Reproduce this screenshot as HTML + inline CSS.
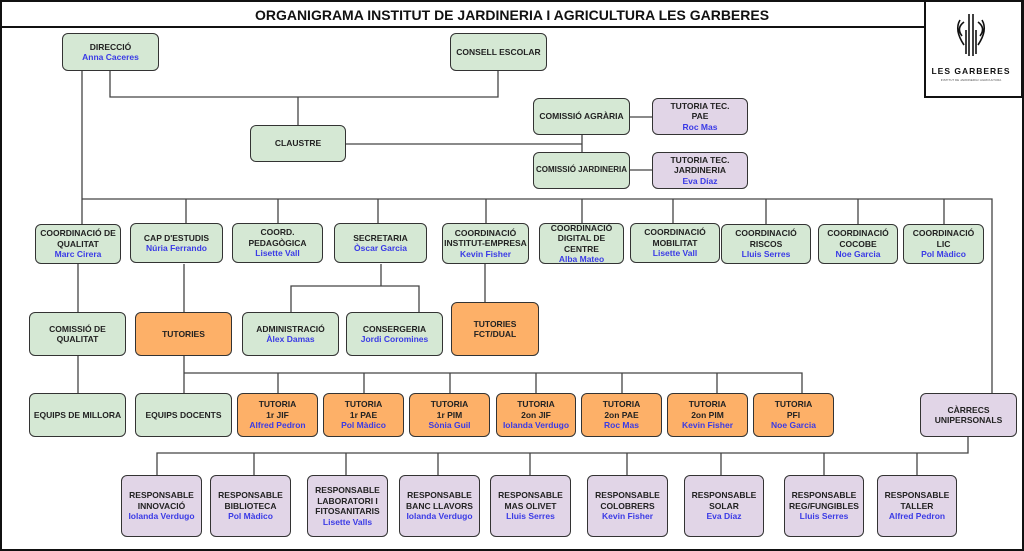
<!DOCTYPE html>
<html><head><meta charset="utf-8"><style>
body{margin:0;width:1024px;height:551px;background:#fff;position:relative;overflow:hidden;font-family:"Liberation Sans",Arial,sans-serif}
.b{position:absolute;box-sizing:border-box;border:1.5px solid #333;border-radius:6px;display:flex;flex-direction:column;justify-content:center;align-items:center;text-align:center;font-weight:bold;font-size:8.5px;line-height:10.5px;color:#222}
.g{background:#d5e8d4}.o{background:#fdb068}.p{background:#e1d5e7}
.b span{color:#3a3ae6}
svg{position:absolute;left:0;top:0}
</style></head><body>
<svg width="1024" height="551">
<rect x="1" y="1" width="1022" height="549" fill="none" stroke="#111" stroke-width="2"/>
<line x1="1" y1="27" x2="925" y2="27" stroke="#111" stroke-width="2"/>
<rect x="925" y="1" width="97" height="96" fill="#fff" stroke="#111" stroke-width="2"/>
<g fill="none" stroke="#111" stroke-width="1.6">
<path d="M969 14 v42 M973 14 v42 M964 22 q-8 6 -2 14 M978 22 q8 6 2 14 M960 20 q-6 10 4 25 M982 20 q6 10 -4 25 M966 30 v24 M976 30 v24"/>
</g>
<text x="971" y="74" font-family="Liberation Sans" font-size="8.5" font-weight="bold" text-anchor="middle" letter-spacing="1" fill="#111">LES GARBERES</text>
<text x="971" y="81" font-family="Liberation Sans" font-size="3" text-anchor="middle" fill="#555">INSTITUT DE JARDINERIA I AGRICULTURA</text>
<text x="512" y="20" font-family="Liberation Sans" font-size="14" font-weight="bold" text-anchor="middle" fill="#111">ORGANIGRAMA INSTITUT DE JARDINERIA I AGRICULTURA LES GARBERES</text>
<g stroke="#444" stroke-width="1.3" fill="none">
<path d="M110 71V97H498V71M298 97V125M346 144H582M582 135V152M630 117H652M630 170H652"/>
<path d="M82 71V224M82 199H992V393M186 199V224M278 199V224M378 199V224M486 199V224M582 199V224M673 199V224M766 199V224M858 199V224M944 199V224"/>
<path d="M78 264V312M184 264V312M381 264V286M291 312V286H419V312M485 264V302"/>
<path d="M78 356V393M184 356V393M184 373H802V393M278 373V393M364 373V393M450 373V393M536 373V393M622 373V393M717 373V393"/>
<path d="M968 437V453H157V475M254 453V475M346 453V475M438 453V475M530 453V475M627 453V475M721 453V475M824 453V475M917 453V475"/>
</g>
</svg>
<div class="b g" style="left:62px;top:33px;width:97px;height:38px">DIRECCIÓ<span>Anna Caceres</span></div>
<div class="b g" style="left:450px;top:33px;width:97px;height:38px">CONSELL ESCOLAR</div>
<div class="b g" style="left:250px;top:125px;width:96px;height:37px">CLAUSTRE</div>
<div class="b g" style="left:533px;top:98px;width:97px;height:37px">COMISSIÓ AGRÀRIA</div>
<div class="b p" style="left:652px;top:98px;width:96px;height:37px">TUTORIA TEC.<br>PAE<span>Roc Mas</span></div>
<div class="b g" style="left:533px;top:152px;width:97px;height:37px;font-size:8px">COMISSIÓ JARDINERIA</div>
<div class="b p" style="left:652px;top:152px;width:96px;height:37px">TUTORIA TEC.<br>JARDINERIA<span>Eva Díaz</span></div>

<div class="b g" style="left:35px;top:224px;width:86px;height:40px">COORDINACIÓ DE<br>QUALITAT<span>Marc Cirera</span></div>
<div class="b g" style="left:130px;top:223px;width:93px;height:40px">CAP D'ESTUDIS<span>Núria Ferrando</span></div>
<div class="b g" style="left:232px;top:223px;width:91px;height:40px">COORD.<br>PEDAGÒGICA<span>Lisette Vall</span></div>
<div class="b g" style="left:334px;top:223px;width:93px;height:40px">SECRETARIA<span>Òscar Garcia</span></div>
<div class="b g" style="left:442px;top:223px;width:87px;height:41px">COORDINACIÓ<br>INSTITUT-EMPRESA<span>Kevin Fisher</span></div>
<div class="b g" style="left:539px;top:223px;width:85px;height:41px">COORDINACIÓ<br>DIGITAL DE<br>CENTRE<span>Alba Mateo</span></div>
<div class="b g" style="left:630px;top:223px;width:90px;height:40px">COORDINACIÓ<br>MOBILITAT<span>Lisette Vall</span></div>
<div class="b g" style="left:721px;top:224px;width:90px;height:40px">COORDINACIÓ<br>RISCOS<span>Lluis Serres</span></div>
<div class="b g" style="left:818px;top:224px;width:80px;height:40px">COORDINACIÓ<br>COCOBE<span>Noe Garcia</span></div>
<div class="b g" style="left:903px;top:224px;width:81px;height:40px">COORDINACIÓ<br>LIC<span>Pol Màdico</span></div>

<div class="b g" style="left:29px;top:312px;width:97px;height:44px">COMISSIÓ DE<br>QUALITAT</div>
<div class="b o" style="left:135px;top:312px;width:97px;height:44px">TUTORIES</div>
<div class="b g" style="left:242px;top:312px;width:97px;height:44px">ADMINISTRACIÓ<span>Àlex Damas</span></div>
<div class="b g" style="left:346px;top:312px;width:97px;height:44px">CONSERGERIA<span>Jordi Coromines</span></div>
<div class="b o" style="left:451px;top:302px;width:88px;height:54px">TUTORIES<br>FCT/DUAL</div>

<div class="b g" style="left:29px;top:393px;width:97px;height:44px">EQUIPS DE MILLORA</div>
<div class="b g" style="left:135px;top:393px;width:97px;height:44px">EQUIPS DOCENTS</div>
<div class="b o" style="left:237px;top:393px;width:81px;height:44px">TUTORIA<br>1r JIF<span>Alfred Pedron</span></div>
<div class="b o" style="left:323px;top:393px;width:81px;height:44px">TUTORIA<br>1r PAE<span>Pol Màdico</span></div>
<div class="b o" style="left:409px;top:393px;width:81px;height:44px">TUTORIA<br>1r PIM<span>Sònia Guil</span></div>
<div class="b o" style="left:496px;top:393px;width:80px;height:44px">TUTORIA<br>2on JIF<span>Iolanda Verdugo</span></div>
<div class="b o" style="left:581px;top:393px;width:81px;height:44px">TUTORIA<br>2on PAE<span>Roc Mas</span></div>
<div class="b o" style="left:667px;top:393px;width:81px;height:44px">TUTORIA<br>2on PIM<span>Kevin Fisher</span></div>
<div class="b o" style="left:753px;top:393px;width:81px;height:44px">TUTORIA<br>PFI<span>Noe Garcia</span></div>
<div class="b p" style="left:920px;top:393px;width:97px;height:44px">CÀRRECS<br>UNIPERSONALS</div>

<div class="b p" style="left:121px;top:475px;width:81px;height:62px">RESPONSABLE<br>INNOVACIÓ<span>Iolanda Verdugo</span></div>
<div class="b p" style="left:210px;top:475px;width:81px;height:62px">RESPONSABLE<br>BIBLIOTECA<span>Pol Màdico</span></div>
<div class="b p" style="left:307px;top:475px;width:81px;height:62px">RESPONSABLE<br>LABORATORI I<br>FITOSANITARIS<span>Lisette Valls</span></div>
<div class="b p" style="left:399px;top:475px;width:81px;height:62px">RESPONSABLE<br>BANC LLAVORS<span>Iolanda Verdugo</span></div>
<div class="b p" style="left:490px;top:475px;width:81px;height:62px">RESPONSABLE<br>MAS OLIVET<span>Lluis Serres</span></div>
<div class="b p" style="left:587px;top:475px;width:81px;height:62px">RESPONSABLE<br>COLOBRERS<span>Kevin Fisher</span></div>
<div class="b p" style="left:684px;top:475px;width:80px;height:62px">RESPONSABLE<br>SOLAR<span>Eva Díaz</span></div>
<div class="b p" style="left:784px;top:475px;width:80px;height:62px">RESPONSABLE<br>REG/FUNGIBLES<span>Lluis Serres</span></div>
<div class="b p" style="left:877px;top:475px;width:80px;height:62px">RESPONSABLE<br>TALLER<span>Alfred Pedron</span></div>
</body></html>
